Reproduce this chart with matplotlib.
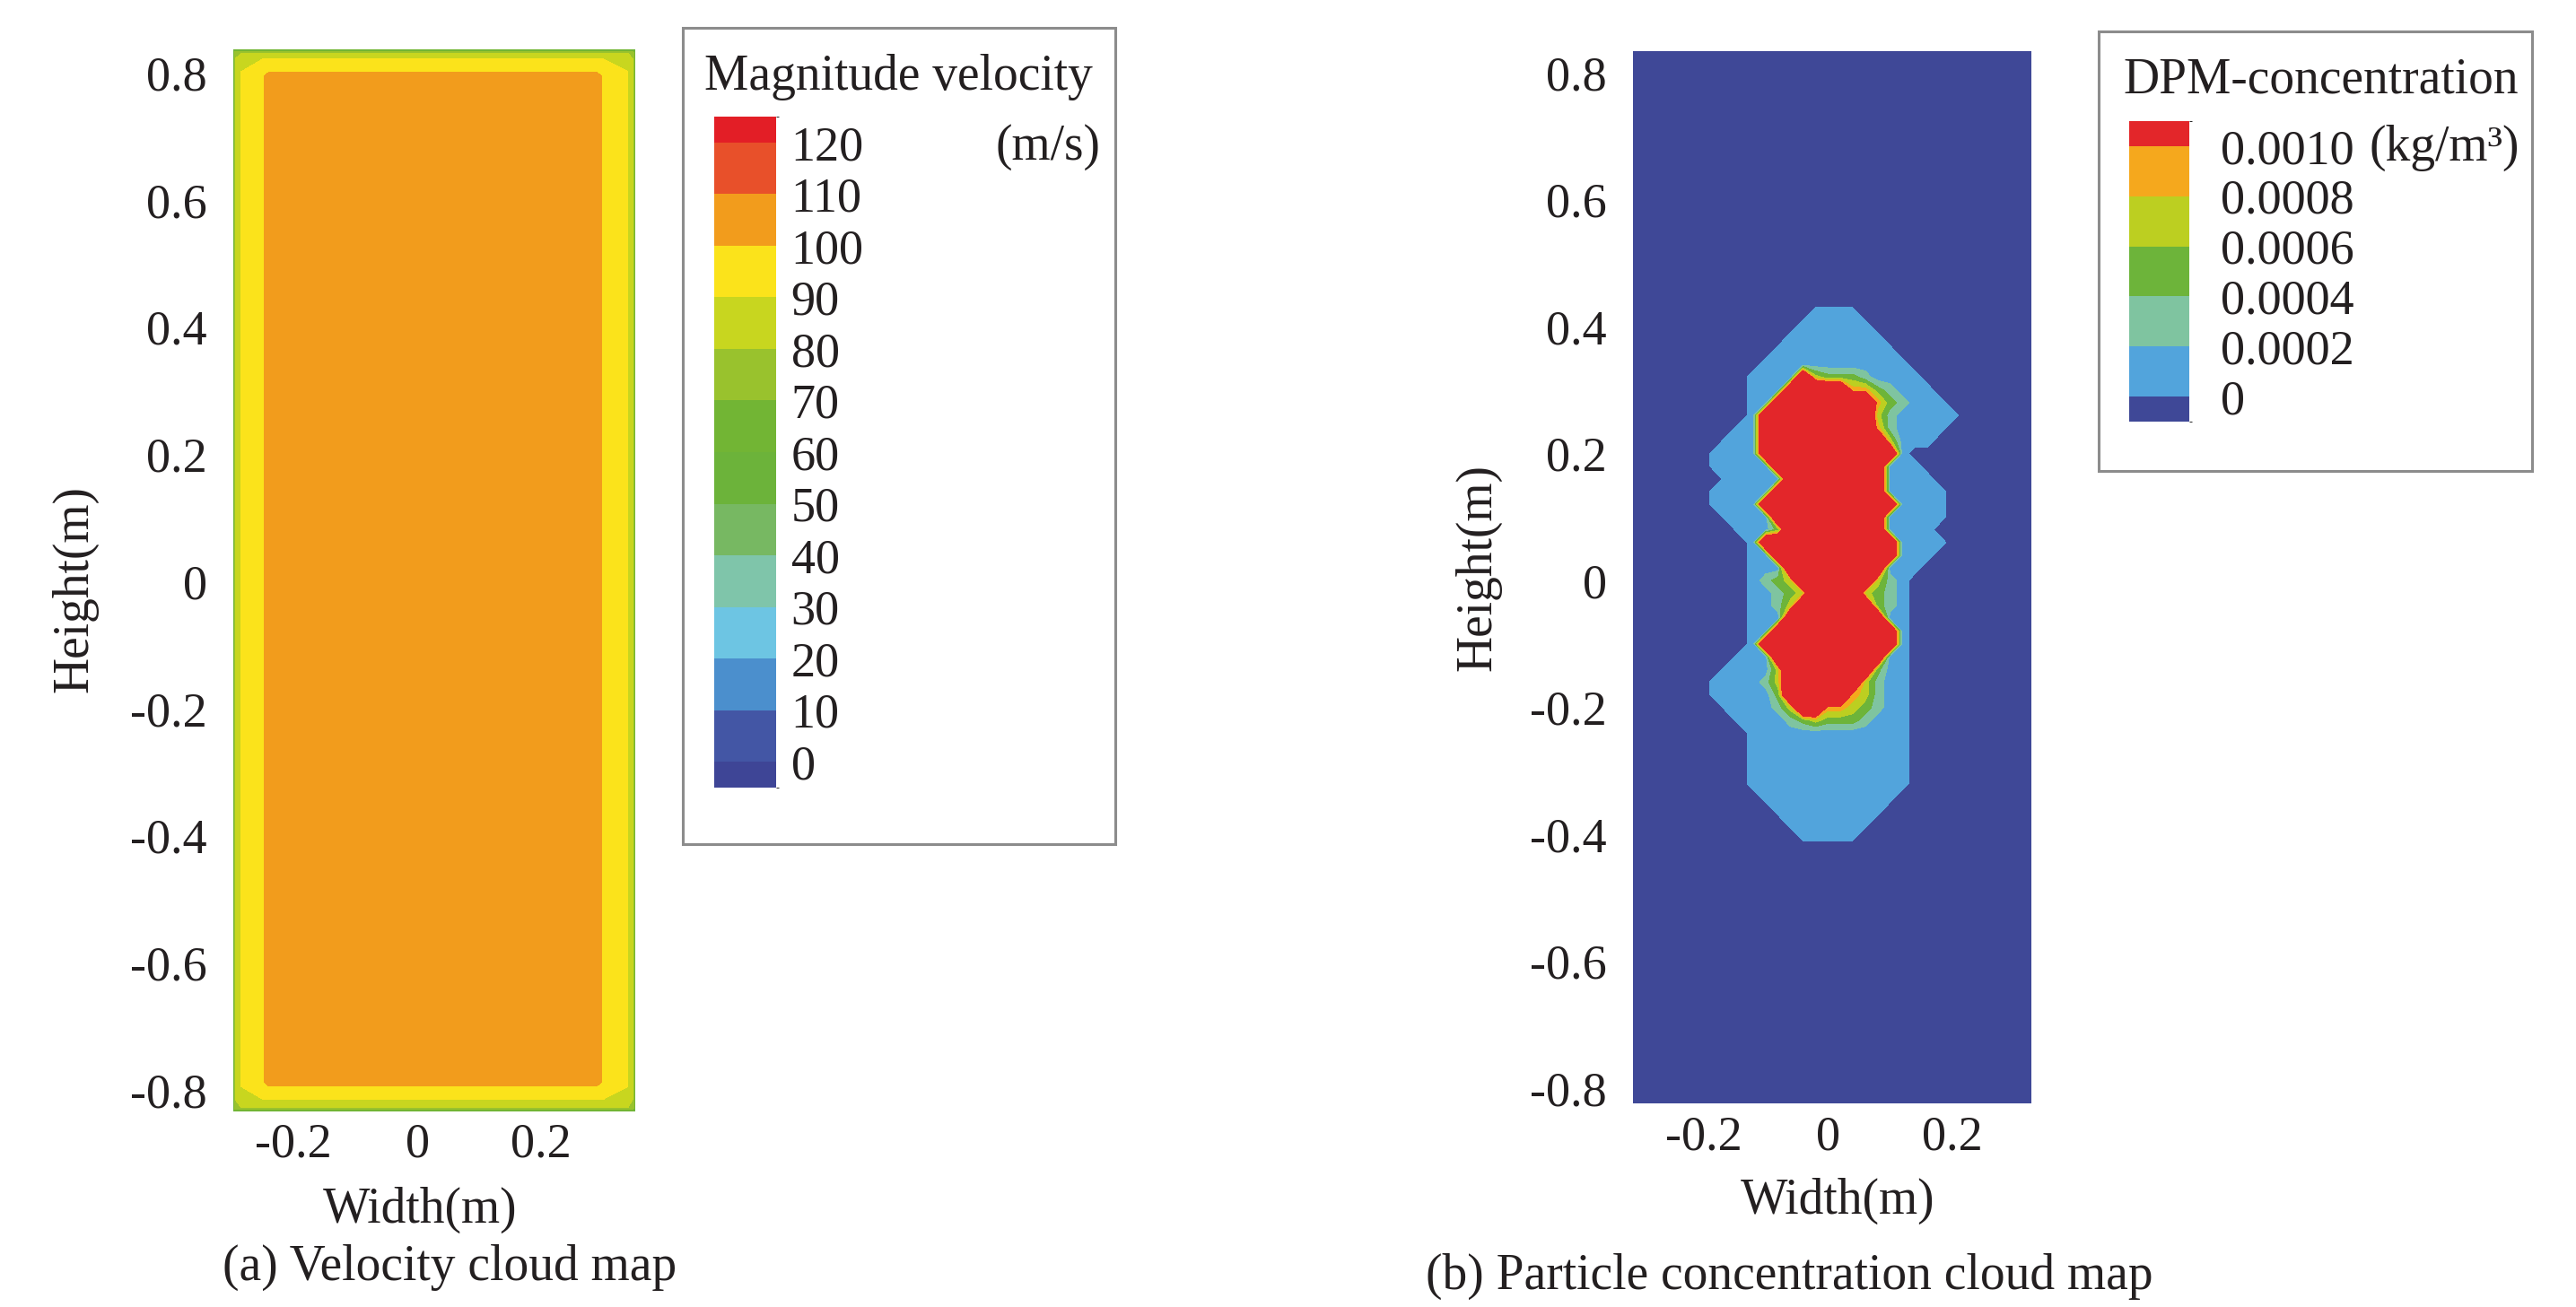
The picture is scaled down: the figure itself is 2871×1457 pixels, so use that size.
"""
plot.py

Velocity and particle concentration cloud maps of the duct cross-section,
redrawn as two filled contour panels with Fluent-style stepped legends.
"""

import matplotlib

matplotlib.use("Agg")
import matplotlib.pyplot as plt
import numpy as np
from matplotlib.colorbar import ColorbarBase
from matplotlib.colors import BoundaryNorm, ListedColormap
from matplotlib.patches import Rectangle

W, H = 2871, 1457
TEXT = "#231f20"

# ---------------- velocity panel data ----------------
# velocity profile read across the width and across the height (m/s)
vel_x_pos = [-0.297, -0.294, -0.284, -0.249, -0.240, 0.290, 0.300, 0.340, 0.348, 0.352]
vel_x_val = [60, 80, 90, 99, 104, 104, 99, 90, 80, 60]
vel_y_pos = [-0.834, -0.828, -0.815, -0.795, -0.788, 0.795, 0.802, 0.822, 0.831, 0.837]
vel_y_val = [60, 80, 90, 99, 104, 104, 99, 90, 80, 60]

vel_ticks = [0, 10, 20, 30, 40, 50, 60, 70, 80, 90, 100, 110, 120]
vel_bar_bounds = [-5] + vel_ticks + [125]
vel_fill_levels = [-100] + vel_ticks + [200]
vel_colors = [
    "#3e4596", "#4356a5", "#4b8fcd", "#6dc5e3", "#7fc5aa", "#77b862", "#6cb33a",
    "#72b534", "#99c22d", "#c8d61f", "#fbe31b", "#f29c1c", "#e8502a", "#e31e26",
]

# ---------------- concentration panel data ----------------
# level code per grid node (0 = none ... 6 = above 0.0010 kg/m3)
# columns: x = -0.22 .. 0.24 step 0.02, rows: y = 0.44 .. -0.44 step 0.02
conc_codes = [
    "000000000000000000000000",
    "000000000011110000000000",
    "000000000111111000000000",
    "000000001111111100000000",
    "000000011111111110000000",
    "000000111111111111000000",
    "000001111643332111100000",
    "000001116666655321110000",
    "000001166666666532111000",
    "000001666666666421111100",
    "000011666666666521111000",
    "000111666666666641110000",
    "001111666666666661000000",
    "001111166666666611100000",
    "000111116666666611110000",
    "001111166666666611111000",
    "001111666666666661111000",
    "000111166666666611111000",
    "000011136666666611110000",
    "000001666666666661111000",
    "000001166666666661110000",
    "000001116666666611100000",
    "000001234666666421000000",
    "000001123466664321000000",
    "000001124666666321000000",
    "000001116666666611000000",
    "000001166666666661000000",
    "000001666666666661000000",
    "000011166666666611000000",
    "000111146666666311000000",
    "001111246666664211000000",
    "001111136666654211000000",
    "000111124665543211000000",
    "000011112343332111000000",
    "000001111111111111000000",
    "000001111111111111000000",
    "000001111111111111000000",
    "000001111111111111000000",
    "000001111111111111000000",
    "000000111111111110000000",
    "000000011111111100000000",
    "000000001111111000000000",
    "000000000111110000000000",
    "000000000000000000000000",
    "000000000000000000000000",
]
# concentration (kg/m3) standing for each code
conc_code_values = [-0.0001, 0.0001, 0.0003, 0.0005, 0.0007, 0.0009, 0.0020]
conc_x = np.linspace(-0.22, 0.24, 24)
conc_y = np.linspace(0.44, -0.44, 45)

conc_ticks = [0, 0.0002, 0.0004, 0.0006, 0.0008, 0.0010]
conc_tick_labels = ["0", "0.0002", "0.0004", "0.0006", "0.0008", "0.0010"]
conc_bar_bounds = [-0.0001] + conc_ticks + [0.0011]
conc_fill_levels = [-0.001] + conc_ticks + [0.005]
conc_colors = ["#3f4897", "#52a4dc", "#7fc4a0", "#6db43a", "#bccf21", "#f5a81d", "#e3262a"]

height_ticks = [-0.8, -0.6, -0.4, -0.2, 0, 0.2, 0.4, 0.6, 0.8]
height_labels = ["-0.8", "-0.6", "-0.4", "-0.2", "0", "0.2", "0.4", "0.6", "0.8"]
width_ticks = [-0.2, 0, 0.2]
width_labels = ["-0.2", "0", "0.2"]


def px_rect(x0, y0, x1, y1):
    return [x0 / W, 1 - y1 / H, (x1 - x0) / W, (y1 - y0) / H]


def fx(x):
    return x / W


def fy(y):
    return 1 - y / H


def style_axes(ax):
    for spine in ax.spines.values():
        spine.set_visible(False)
    ax.set_xticks(width_ticks, width_labels)
    ax.set_yticks(height_ticks, height_labels)
    ax.tick_params(axis="both", length=0, labelsize=39, colors=TEXT)
    ax.tick_params(axis="y", pad=21)
    ax.tick_params(axis="x", pad=9)


def add_bar(fig, rect, colors, bounds, ticks, labels, pad):
    cax = fig.add_axes(rect)
    cb = ColorbarBase(
        cax,
        cmap=ListedColormap(colors),
        norm=BoundaryNorm(bounds, len(colors)),
        boundaries=bounds,
        spacing="proportional",
        ticks=ticks,
    )
    cb.outline.set_visible(False)
    cb.set_ticklabels(labels)
    cax.tick_params(length=0, pad=pad, labelsize=39, colors=TEXT)
    return cb


def main():
    plt.rcParams["font.family"] = ["Liberation Serif", "DejaVu Serif"]
    fig = plt.figure(figsize=(W / 100, H / 100), dpi=100)

    # (a) velocity
    ax1 = fig.add_axes(px_rect(260, 55, 708, 1239))
    vel_field = np.minimum.outer(np.array(vel_y_val), np.array(vel_x_val))
    ax1.contourf(vel_x_pos, vel_y_pos, vel_field, levels=vel_fill_levels, colors=vel_colors)
    ax1.set_xlim(-0.297, 0.352)
    ax1.set_ylim(-0.834, 0.837)
    style_axes(ax1)

    # (b) particle concentration
    ax2 = fig.add_axes(px_rect(1820, 57, 2264, 1230))
    ax2.set_facecolor(conc_colors[0])
    lookup = np.array(conc_code_values)
    conc_field = lookup[np.array([[int(c) for c in row] for row in conc_codes])]
    ax2.contourf(conc_x, conc_y, conc_field, levels=conc_fill_levels, colors=conc_colors)
    ax2.set_xlim(-0.314, 0.328)
    ax2.set_ylim(-0.824, 0.834)
    style_axes(ax2)

    # legends
    add_bar(fig, px_rect(796, 130, 865, 878), vel_colors, vel_bar_bounds,
            vel_ticks, [str(v) for v in vel_ticks], 12)
    add_bar(fig, px_rect(2373, 135, 2440, 470), conc_colors, conc_bar_bounds,
            conc_ticks, conc_tick_labels, 25)

    for x0, y0, x1, y1 in [(761, 31, 1243, 941), (2339, 35, 2822, 525)]:
        fig.patches.append(
            Rectangle((fx(x0), fy(y1)), (x1 - x0) / W, (y1 - y0) / H,
                      transform=fig.transFigure, fill=False,
                      edgecolor="#8c8c8c", linewidth=2.2)
        )

    txt = dict(color=TEXT, fontsize=40, va="baseline")
    fig.text(fx(785), fy(100), "Magnitude velocity", ha="left", **txt)
    fig.text(fx(1227), fy(178), "(m/s)", ha="right", **txt)
    fig.text(fx(2366), fy(103), "DPM-concentration", ha="left", **txt)
    fig.text(fx(2808), fy(179), "(kg/m³)", ha="right", **txt)

    fig.text(fx(83), fy(656), "Height(m)", rotation=90, ha="center", va="center",
             color=TEXT, fontsize=40)
    fig.text(fx(1647), fy(633), "Height(m)", rotation=90, ha="center", va="center",
             color=TEXT, fontsize=40)
    fig.text(fx(468), fy(1363), "Width(m)", ha="center", **txt)
    fig.text(fx(2048), fy(1353), "Width(m)", ha="center", **txt)
    fig.text(fx(501), fy(1427), "(a) Velocity cloud map", ha="center", **txt)
    fig.text(fx(1994), fy(1437), "(b) Particle concentration cloud map", ha="center", **txt)

    fig.savefig("out.png", dpi=100, facecolor="white")


if __name__ == "__main__":
    main()
